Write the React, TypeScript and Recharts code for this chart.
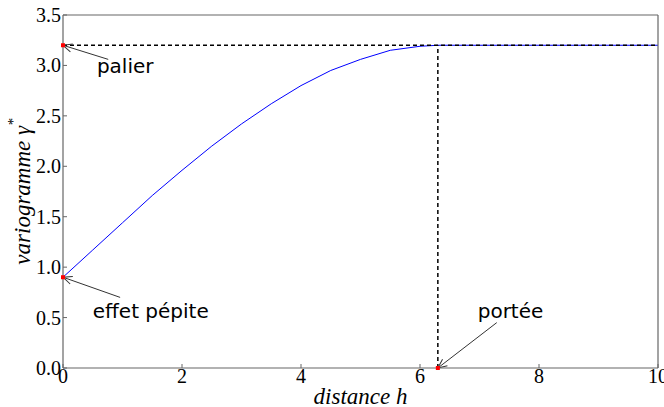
import {
  ComposedChart, Line, Scatter, XAxis, YAxis, ReferenceLine, Label,
} from 'recharts';

// spherical variogram
const hValues = [0, 0.5, 1, 1.5, 2, 2.5, 3, 3.5, 4, 4.5, 5, 5.5, 6, 6.3, 10];
const gammaValues = [0.9, 1.17, 1.44, 1.71, 1.96, 2.2, 2.42, 2.62, 2.8, 2.95, 3.06, 3.15, 3.19, 3.2, 3.2];

const sill = 3.2;
const nugget = 0.9;
const range = 6.3;

const xTicks = [0, 2, 4, 6, 8, 10];
const yTicks = [0, 0.5, 1, 1.5, 2, 2.5, 3, 3.5];

const annotLabels = ['palier', 'effet pépite', 'portée'];
const annotPointX = [0, 0, range];
const annotPointY = [sill, nugget, 0];
const annotTextX = [0.57, 0.5, 6.97];
const annotTextY = [2.99, 0.57, 0.57];
const annotTailX = [0.76, 0.96, 7.29];
const annotTailY = [3.06, 0.7, 0.45];

const curve = hValues.map((h, i) => ({ h, g: gammaValues[i] }));
const points = annotPointX.map((h, i) => ({ h, g: annotPointY[i] }));
const texts = annotTextX.map((h, i) => ({ h, g: annotTextY[i], label: annotLabels[i] }));

const FRAME = '#666';
const TICK_FONT = '"Liberation Serif", serif';
const LABEL_FONT = '"Liberation Serif", serif';

const LeftTick = (props: any) => {
  const { x, y, payload } = props;
  return (
    <g>
      <line x1={x} x2={x + 4} y1={y} y2={y} stroke={FRAME} />
      <text x={x - 2} y={y} textAnchor="end" dominantBaseline="central" fontFamily={TICK_FONT} fontSize={20} fill="#000">
        {payload.value.toFixed(1)}
      </text>
    </g>
  );
};

const RightTick = (props: any) => {
  const { x, y } = props;
  return <line x1={x - 4} x2={x} y1={y} y2={y} stroke={FRAME} />;
};

const BottomTick = (props: any) => {
  const { x, y, payload } = props;
  return (
    <g>
      <line x1={x} x2={x} y1={y - 4} y2={y} stroke={FRAME} />
      <text x={x} y={y + 1} textAnchor="middle" dominantBaseline="hanging" fontFamily={TICK_FONT} fontSize={20} fill="#000">
        {payload.value}
      </text>
    </g>
  );
};

const TopTick = (props: any) => {
  const { x, y } = props;
  return <line x1={x} x2={x} y1={y} y2={y + 4} stroke={FRAME} />;
};

const Marker = (props: any) => (
  <rect x={props.cx - 2} y={props.cy - 2} width={4} height={4} fill="#ff0000" />
);

const Annot = (props: any) => (
  <text x={props.cx} y={props.cy} dominantBaseline="central" fontFamily='"DejaVu Sans", sans-serif' fontSize={20} fill="#000">
    {props.payload.label}
  </text>
);

export default function App() {
  return (
    <div style={{ position: 'absolute', left: 0, top: 0, width: 664, height: 407, background: '#fff' }}>
      <ComposedChart width={664} height={407} margin={{ top: 14, right: 5, left: 62, bottom: 38 }}>
        <defs>
          <marker id="arrowOpen" markerWidth="12" markerHeight="12" refX="10" refY="6" orient="auto" markerUnits="userSpaceOnUse">
            <path d="M1,2 L10,6 L1,10" fill="none" stroke="#333" strokeWidth={1} />
          </marker>
        </defs>
        <XAxis dataKey="h" type="number" domain={[0, 10]} ticks={xTicks} height={1} tickSize={0} tickMargin={0}
          axisLine={{ stroke: FRAME, strokeWidth: 1.2 }} tickLine={false} tick={BottomTick} interval={0}>
          <Label content={({ viewBox }: any) => (
            <text x={viewBox.x + viewBox.width / 2} y={viewBox.y + 28} textAnchor="middle" dominantBaseline="central"
              fontFamily={LABEL_FONT} fontStyle="italic" fontSize={23} fill="#000">distance h</text>
          )} />
        </XAxis>
        <XAxis xAxisId="top" orientation="top" dataKey="h" type="number" domain={[0, 10]} ticks={xTicks} height={1} tickSize={0} tickMargin={0}
          axisLine={{ stroke: FRAME, strokeWidth: 1.2 }} tickLine={false} tick={TopTick} interval={0} />
        <YAxis dataKey="g" type="number" domain={[0, 3.5]} ticks={yTicks} width={1} tickSize={0} tickMargin={0}
          axisLine={{ stroke: FRAME, strokeWidth: 1.2 }} tickLine={false} tick={LeftTick} interval={0}>
          <Label content={({ viewBox }: any) => {
            const cx = viewBox.x - 40;
            const cy = viewBox.y + viewBox.height / 2;
            return (
              <text x={cx} y={cy} transform={`rotate(-90 ${cx} ${cy})`} textAnchor="middle" dominantBaseline="central"
                fontFamily={LABEL_FONT} fontStyle="italic" fontSize={23} fill="#000">
                variogramme γ<tspan dy={-9} fontSize={15}>*</tspan>
              </text>
            );
          }} />
        </YAxis>
        <YAxis yAxisId="right" orientation="right" dataKey="g" type="number" domain={[0, 3.5]} ticks={yTicks} width={1} tickSize={0} tickMargin={0}
          axisLine={{ stroke: FRAME, strokeWidth: 1.2 }} tickLine={false} tick={RightTick} interval={0} />

        <Line data={curve} dataKey="g" type="linear" stroke="#0000ff" strokeWidth={1} dot={false} isAnimationActive={false} />

        <ReferenceLine segment={[{ x: 0, y: sill }, { x: 10, y: sill }]} stroke="#000" strokeWidth={1.5} strokeDasharray="4 3" />
        <ReferenceLine segment={[{ x: range, y: 0 }, { x: range, y: sill }]} stroke="#000" strokeWidth={1.5} strokeDasharray="4 3" />

        {annotLabels.map((_, i) => (
          <ReferenceLine key={i}
            segment={[{ x: annotTailX[i], y: annotTailY[i] }, { x: annotPointX[i], y: annotPointY[i] }]}
            stroke="#333" strokeWidth={1} markerEnd="url(#arrowOpen)" />
        ))}

        <Scatter data={points} dataKey="g" shape={Marker} isAnimationActive={false} />
        <Scatter data={texts} dataKey="g" shape={Annot} isAnimationActive={false} />
      </ComposedChart>
    </div>
  );
}
